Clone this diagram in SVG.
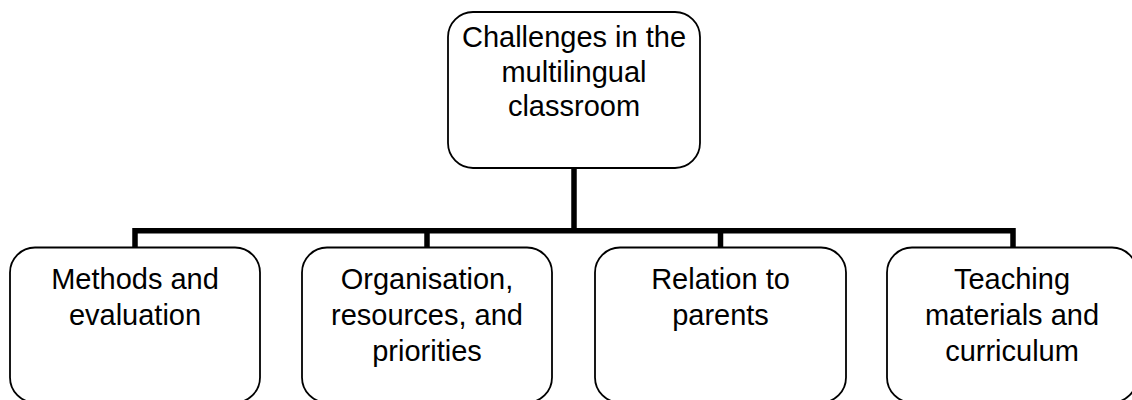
<svg xmlns="http://www.w3.org/2000/svg" width="1132" height="400" viewBox="0 0 1132 400">
<style>
.box{fill:#fff;stroke:#000;stroke-width:1.8}
.conn{fill:none;stroke:#000;stroke-width:5.5;stroke-linecap:butt;stroke-linejoin:miter}
.t{font-family:"Liberation Sans",Arial,sans-serif;font-size:29px;fill:#000;text-anchor:middle}
</style>
<rect width="1132" height="400" fill="#fff"/>
<g id="connectors">
<path class="conn" d="M574,168 V230.8"/>
<path class="conn" d="M135,248 V230.8 H1013 V248"/>
<path class="conn" d="M427,230.8 V248"/>
<path class="conn" d="M720.5,230.8 V248"/>
</g>
<g id="root">
<rect class="box" x="448" y="12" width="252" height="156" rx="25" ry="25"/>
<text class="t" x="574" y="47">Challenges in the</text>
<text class="t" x="574" y="81.5">multilingual</text>
<text class="t" x="574" y="116">classroom</text>
</g>
<g id="methods">
<rect class="box" x="10" y="247.5" width="250" height="155" rx="25" ry="25"/>
<text class="t" x="135" y="289">Methods and</text>
<text class="t" x="135" y="325">evaluation</text>
</g>
<g id="organisation">
<rect class="box" x="302" y="247.5" width="250" height="155" rx="25" ry="25"/>
<text class="t" x="427" y="289">Organisation,</text>
<text class="t" x="427" y="325">resources, and</text>
<text class="t" x="427" y="360.5">priorities</text>
</g>
<g id="parents">
<rect class="box" x="595" y="247.5" width="251" height="155" rx="25" ry="25"/>
<text class="t" x="720.5" y="289">Relation to</text>
<text class="t" x="720.5" y="325">parents</text>
</g>
<g id="materials">
<rect class="box" x="887" y="247.5" width="250" height="155" rx="25" ry="25"/>
<text class="t" x="1012" y="289">Teaching</text>
<text class="t" x="1012" y="325">materials and</text>
<text class="t" x="1012" y="360.5">curriculum</text>
</g>
</svg>
